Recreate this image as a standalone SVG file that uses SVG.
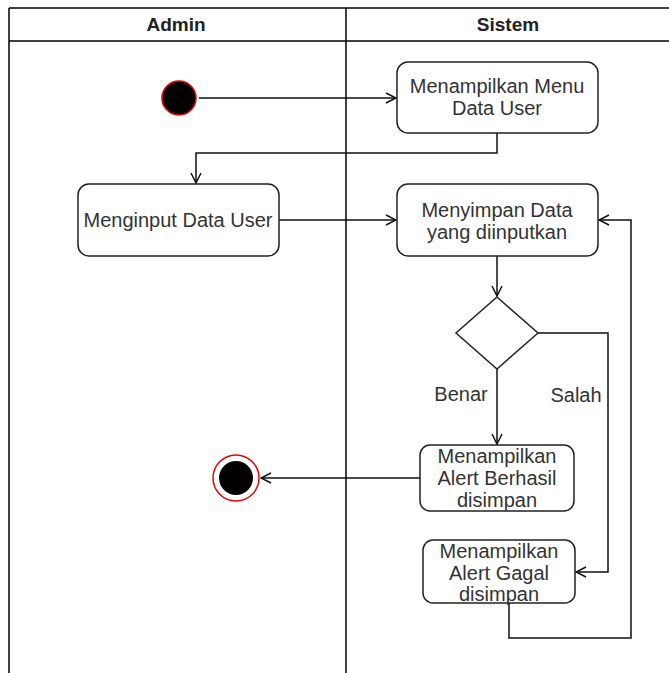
<svg xmlns="http://www.w3.org/2000/svg" width="669" height="673" viewBox="0 0 669 673">
<defs>
<style>
.lane{fill:none;stroke:#000;stroke-width:1.5}
.act{fill:#fff;stroke:#222;stroke-width:1.5}
.t{font-family:"Liberation Sans",Arial,sans-serif;font-size:20px;fill:#333;text-anchor:middle}
.h{font-family:"Liberation Sans",Arial,sans-serif;font-size:19px;font-weight:bold;fill:#222;text-anchor:middle}
.c{fill:none;stroke:#111;stroke-width:1.5}
</style>
<marker id="arr" viewBox="0 0 12 12" refX="11" refY="6" markerWidth="12" markerHeight="12" markerUnits="userSpaceOnUse" orient="auto">
<path d="M1,1 L11,6 L1,11" fill="none" stroke="#111" stroke-width="1.5"/>
</marker>
</defs>
<rect width="669" height="673" fill="#fff"/>
<g id="lanes">
<line class="lane" x1="9" y1="8" x2="669" y2="8"/>
<line class="lane" x1="9" y1="41" x2="669" y2="41"/>
<line class="lane" x1="9" y1="8" x2="9" y2="673"/>
<line class="lane" x1="346" y1="8" x2="346" y2="673"/>
<text class="h" x="176" y="31">Admin</text>
<text class="h" x="508" y="31">Sistem</text>
</g>
<g id="connectors">
<line class="c" x1="199" y1="98" x2="396" y2="98" marker-end="url(#arr)"/>
<polyline class="c" points="497,133 497,153 196,153 196,183" marker-end="url(#arr)"/>
<line class="c" x1="279" y1="220" x2="396" y2="220" marker-end="url(#arr)"/>
<line class="c" x1="497" y1="256" x2="497" y2="296" marker-end="url(#arr)"/>
<line class="c" x1="497" y1="369" x2="497" y2="444" marker-end="url(#arr)"/>
<polyline class="c" points="538,333 608,333 608,572 576,572" marker-end="url(#arr)"/>
<line class="c" x1="420" y1="478" x2="261" y2="478" marker-end="url(#arr)"/>
<polyline class="c" points="509,603 509,638 631,638 631,220 599,220" marker-end="url(#arr)"/>
<text class="t" x="461" y="401">Benar</text>
<text class="t" x="576" y="402">Salah</text>
</g>
<g id="start">
<circle cx="179" cy="98" r="17" fill="#000" stroke="#e00" stroke-width="1.5"/>
</g>
<g id="menu">
<rect class="act" x="397" y="62" width="201" height="71" rx="11"/>
<text class="t" x="497" y="93">Menampilkan Menu</text>
<text class="t" x="497" y="115">Data User</text>
</g>
<g id="input">
<rect class="act" x="78" y="184" width="201" height="72" rx="11"/>
<text class="t" x="178" y="227">Menginput Data User</text>
</g>
<g id="simpan">
<rect class="act" x="397" y="184" width="201" height="72" rx="11"/>
<text class="t" x="497" y="217">Menyimpan Data</text>
<text class="t" x="497" y="239">yang diinputkan</text>
</g>
<g id="decision">
<polygon class="act" points="497,297 538,333 497,369 456,333"/>
</g>
<g id="berhasil">
<rect class="act" x="420" y="445" width="154" height="66" rx="10"/>
<text class="t" x="497" y="463">Menampilkan</text>
<text class="t" x="497" y="485">Alert Berhasil</text>
<text class="t" x="497" y="507">disimpan</text>
</g>
<g id="gagal">
<rect class="act" x="423" y="540" width="152" height="63" rx="10"/>
<text class="t" x="499" y="558">Menampilkan</text>
<text class="t" x="499" y="580">Alert Gagal</text>
<text class="t" x="499" y="601">disimpan</text>
</g>
<g id="end">
<circle cx="236" cy="478" r="23" fill="#fff" stroke="#e00" stroke-width="1.5"/>
<circle cx="236" cy="478" r="17" fill="#000"/>
</g>
</svg>
